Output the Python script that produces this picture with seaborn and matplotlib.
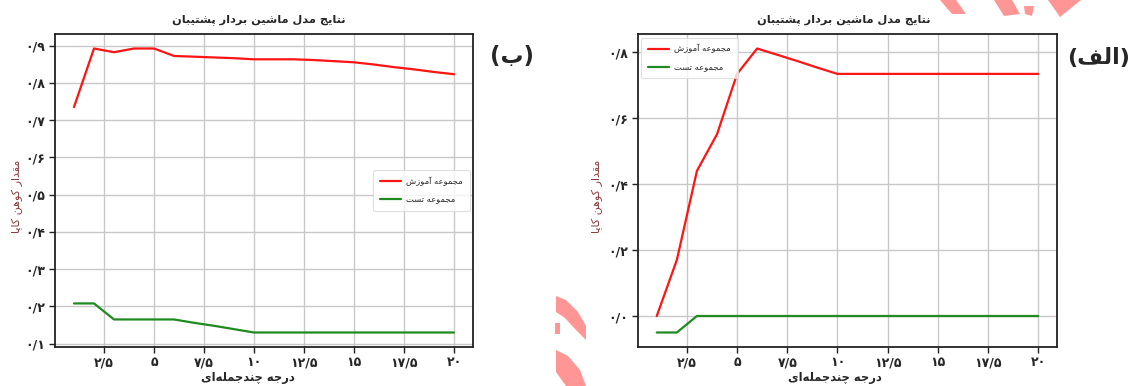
import matplotlib
matplotlib.use("Agg")
import matplotlib.pyplot as plt
from matplotlib.ticker import MultipleLocator, FuncFormatter
from matplotlib.patches import Polygon
import seaborn as sns
import pandas as pd

# ---------------------------------------------------------------- data
degree = list(range(1, 21))

# panel (ب)
b_train = [0.735, 0.892, 0.882, 0.892, 0.892, 0.872, 0.870, 0.868, 0.866, 0.863,
           0.863, 0.863, 0.861, 0.858, 0.855, 0.849, 0.842, 0.836, 0.829, 0.823]
b_test = [0.208, 0.208, 0.165, 0.165, 0.165, 0.165, 0.156, 0.148, 0.139, 0.130,
          0.130, 0.130, 0.130, 0.130, 0.130, 0.130, 0.130, 0.130, 0.130, 0.130]

# panel (الف)
a_train = [0.000, 0.170, 0.440, 0.551, 0.734, 0.811, 0.792, 0.773, 0.753, 0.734,
           0.734, 0.734, 0.734, 0.734, 0.734, 0.734, 0.734, 0.734, 0.734, 0.734]
a_test = [-0.050, -0.050, 0.000, 0.000, 0.000, 0.000, 0.000, 0.000, 0.000, 0.000,
          0.000, 0.000, 0.000, 0.000, 0.000, 0.000, 0.000, 0.000, 0.000, 0.000]

title_text = "نتایج مدل ماشین بردار پشتیبان"
xlabel_text = "درجه چندجمله\u200cای"
ylabel_text = "مقدار کوهن کاپا"
train_label = "مجموعه آموزش"
test_label = "مجموعه تست"
panel_b = "ب"
panel_a = "الف"

# ------------------------------------------------- Persian text shaping
# (isolated, final, initial, medial); right-joining letters have only two forms
FORMS = {
    "\u0627": ("\uFE8D", "\uFE8E"),
    "\u0622": ("\uFE81", "\uFE82"),
    "\u062F": ("\uFEA9", "\uFEAA"),
    "\u0631": ("\uFEAD", "\uFEAE"),
    "\u0632": ("\uFEAF", "\uFEB0"),
    "\u0648": ("\uFEED", "\uFEEE"),
    "\u0628": ("\uFE8F", "\uFE90", "\uFE91", "\uFE92"),
    "\u067E": ("\uFB56", "\uFB57", "\uFB58", "\uFB59"),
    "\u062A": ("\uFE95", "\uFE96", "\uFE97", "\uFE98"),
    "\u062C": ("\uFE9D", "\uFE9E", "\uFE9F", "\uFEA0"),
    "\u0686": ("\uFB7A", "\uFB7B", "\uFB7C", "\uFB7D"),
    "\u0633": ("\uFEB1", "\uFEB2", "\uFEB3", "\uFEB4"),
    "\u0634": ("\uFEB5", "\uFEB6", "\uFEB7", "\uFEB8"),
    "\u0639": ("\uFEC9", "\uFECA", "\uFECB", "\uFECC"),
    "\u0641": ("\uFED1", "\uFED2", "\uFED3", "\uFED4"),
    "\u0642": ("\uFED5", "\uFED6", "\uFED7", "\uFED8"),
    "\u06A9": ("\uFB8E", "\uFB8F", "\uFB90", "\uFB91"),
    "\u0644": ("\uFEDD", "\uFEDE", "\uFEDF", "\uFEE0"),
    "\u0645": ("\uFEE1", "\uFEE2", "\uFEE3", "\uFEE4"),
    "\u0646": ("\uFEE5", "\uFEE6", "\uFEE7", "\uFEE8"),
    "\u0647": ("\uFEE9", "\uFEEA", "\uFEEB", "\uFEEC"),
    "\u06CC": ("\uFBFC", "\uFBFD", "\uFBFE", "\uFBFF"),
}


def fa(text):
    """Shape Persian letters into contextual forms and return visual (LTR) order."""
    out = []
    n = len(text)
    for i, ch in enumerate(text):
        if ch not in FORMS:
            out.append(ch)
            continue
        prev = text[i - 1] if i > 0 else ""
        nxt = text[i + 1] if i + 1 < n else ""
        join_prev = prev in FORMS and len(FORMS[prev]) == 4
        join_next = len(FORMS[ch]) == 4 and nxt in FORMS
        f = FORMS[ch]
        if join_prev and join_next:
            out.append(f[3])
        elif join_prev:
            out.append(f[1])
        elif join_next:
            out.append(f[2])
        else:
            out.append(f[0])
    shaped = "".join(c for c in out if c != "\u200c")
    return shaped[::-1]


FA_DIGITS = str.maketrans("0123456789.", "۰۱۲۳۴۵۶۷۸۹/")


def x_fmt(v, pos):
    return f"{v:g}".translate(FA_DIGITS)


def y_fmt(v, pos):
    return f"{v:.1f}".replace("-", "").translate(FA_DIGITS)


# ---------------------------------------------------------------- style
sns.set_theme(style="ticks")
plt.rcParams["font.family"] = ["DejaVu Sans"]
plt.rcParams["axes.edgecolor"] = "#222222"
plt.rcParams["axes.linewidth"] = 1.3

W, H = 1134, 386
fig = plt.figure(figsize=(W / 100, H / 100), dpi=100)
fig.patch.set_facecolor("white")

axB = fig.add_axes([55 / W, 1 - 346.7 / H, 418 / W, 312.4 / H])
axA = fig.add_axes([637.7 / W, 1 - 346.7 / H, 419.6 / W, 312.4 / H])

palette = {fa(train_label): "#ff1414", fa(test_label): "#1f8a1f"}


def long_frame(train, test):
    return pd.DataFrame({
        "degree": degree * 2,
        "kappa": list(train) + list(test),
        "set": [fa(train_label)] * len(degree) + [fa(test_label)] * len(degree),
    })


def draw(ax, train, test, ystep, legend_loc, label_x, title_x, xlab_x):
    sns.lineplot(data=long_frame(train, test), x="degree", y="kappa", hue="set",
                 palette=palette, linewidth=1.6, ax=ax)
    ax.grid(True, color="#c8c8c8", linewidth=1.0)
    ax.set_axisbelow(True)
    ax.xaxis.set_major_locator(MultipleLocator(2.5))
    ax.yaxis.set_major_locator(MultipleLocator(ystep))
    ax.xaxis.set_major_formatter(FuncFormatter(x_fmt))
    ax.yaxis.set_major_formatter(FuncFormatter(y_fmt))
    ax.tick_params(axis="both", length=4, width=1.0, color="#222222",
                   labelsize=9, pad=3)
    for lab in ax.get_xticklabels() + ax.get_yticklabels():
        lab.set_fontweight("bold")
    ax.set_xlabel("")
    ax.set_ylabel("")
    ax.text(xlab_x, -0.097, fa(xlabel_text), transform=ax.transAxes,
            ha="center", va="center", fontsize=8.3, fontweight="bold")
    ax.text(label_x, 0.48, fa(ylabel_text), transform=ax.transAxes, rotation=90,
            ha="center", va="center", fontsize=8, color="#8c3c3c")
    ax.text(title_x, 1.046, fa(title_text), transform=ax.transAxes, ha="center",
            va="center", fontsize=8.2, fontweight="bold")
    leg = ax.legend(loc=legend_loc, fontsize=6.0, handlelength=2.6, frameon=True,
                    borderpad=0.8, labelspacing=1.1, handletextpad=0.6,
                    fancybox=True, borderaxespad=0.4)
    leg.get_frame().set_edgecolor("#d8d8d8")
    leg.get_frame().set_linewidth(0.8)
    leg.set_title(None)


draw(axB, b_train, b_test, 0.1, "center right", -0.091, 0.487, 0.462)
draw(axA, a_train, a_test, 0.2, "upper left", -0.097, 0.49, 0.47)

fig.text(512 / W, 1 - 57 / H, "(" + fa(panel_b) + ")", fontsize=16.5,
         fontweight="bold", ha="center", va="center")
fig.text(1099 / W, 1 - 58 / H, "(" + fa(panel_a) + ")", fontsize=16,
         fontweight="bold", ha="center", va="center")

# faint pink logo fragments printed over the page
pink = "#ff8a8a"
logo_bits = [
    [(940, 0), (956, 0), (966, 14), (952, 14)],
    [(994, 0), (1012, 0), (1020, 14), (1004, 16)],
    [(1024, 6), (1034, 6), (1032, 16), (1025, 14)],
    [(1048, 0), (1081, 0), (1060, 17)],
    [(556, 296), (566, 300), (578, 312), (586, 326), (586, 340), (576, 330), (565, 318), (556, 312)],
    [(556, 350), (568, 356), (580, 370), (586, 386), (566, 386), (556, 372)],
    [(555, 323), (560, 323), (560, 334), (555, 334)],
]
for pts in logo_bits:
    fig.add_artist(Polygon([(x / W, 1 - y / H) for x, y in pts], closed=True,
                           transform=fig.transFigure, facecolor=pink,
                           edgecolor="none", alpha=0.9, zorder=0.5))

fig.savefig("out.png", dpi=100, facecolor="white")
